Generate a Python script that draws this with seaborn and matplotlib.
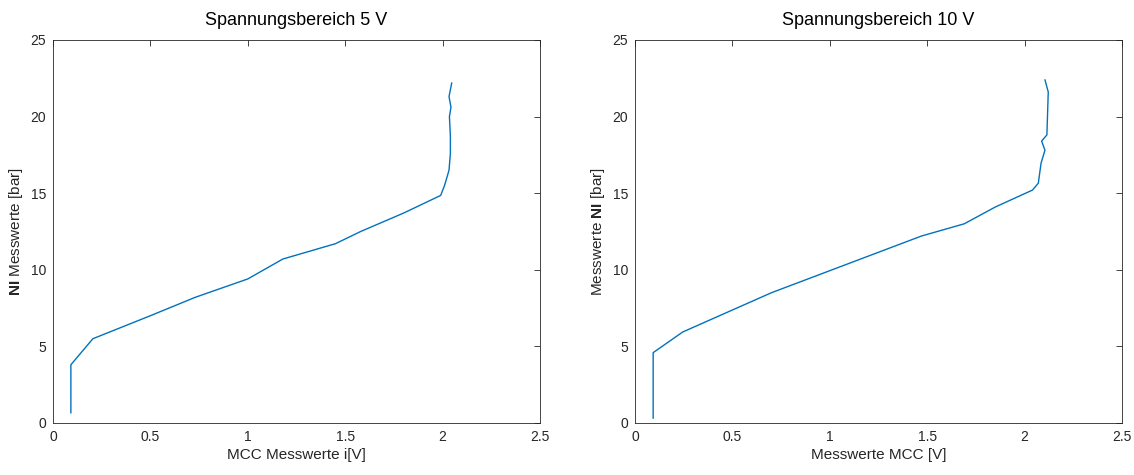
import matplotlib
matplotlib.use("Agg")
import matplotlib.pyplot as plt
import seaborn as sns
import pandas as pd

# Left panel: Spannungsbereich 5 V
mcc_5v = [0.092, 0.092, 0.205, 0.50, 0.73, 1.00, 1.18, 1.45, 1.58, 1.80, 1.99, 2.01,
          2.033, 2.04, 2.04, 2.035, 2.043, 2.033, 2.047]
ni_5v = [0.65, 3.8, 5.5, 7.0, 8.2, 9.4, 10.7, 11.7, 12.5, 13.7, 14.85, 15.5,
         16.5, 17.6, 18.7, 20.0, 20.6, 21.3, 22.2]

# Right panel: Spannungsbereich 10 V
mcc_10v = [0.093, 0.093, 0.245, 0.70, 1.47, 1.69, 1.85, 2.04, 2.07, 2.084, 2.104,
           2.087, 2.114, 2.121, 2.104]
ni_10v = [0.3, 4.59, 5.94, 8.5, 12.2, 13.0, 14.1, 15.2, 15.65, 16.95, 17.8,
          18.4, 18.8, 21.6, 22.4]

titles = ["Spannungsbereich 5 V", "Spannungsbereich 10 V"]
xlabels = ["MCC Messwerte i[V]", "Messwerte MCC [V]"]
ylabels = [r"$\mathbf{NI}$ Messwerte [bar]", r"Messwerte $\mathbf{NI}$ [bar]"]
xticks = [0, 0.5, 1, 1.5, 2, 2.5]
xticklabels = ["0", "0.5", "1", "1.5", "2", "2.5"]
yticks = [0, 5, 10, 15, 20, 25]

sns.set_theme(style="white")
plt.rcParams['font.family'] = ['Liberation Sans', 'DejaVu Sans']
plt.rcParams['mathtext.fontset'] = 'custom'
plt.rcParams['mathtext.rm'] = 'Liberation Sans'
plt.rcParams['mathtext.bf'] = 'Liberation Sans:bold'

fig = plt.figure(figsize=(11.34, 4.75), dpi=100)
ax1 = fig.add_axes([0.0467, 0.1095, 0.4295, 0.8065])
ax2 = fig.add_axes([0.560, 0.1095, 0.4295, 0.8065])

line_color = "#0072BD"
axc = "#262626"

df1 = pd.DataFrame({"x": mcc_5v, "y": ni_5v})
df2 = pd.DataFrame({"x": mcc_10v, "y": ni_10v})

for ax, df, title, xl, yl in [(ax1, df1, titles[0], xlabels[0], ylabels[0]),
                              (ax2, df2, titles[1], xlabels[1], ylabels[1])]:
    sns.lineplot(data=df, x="x", y="y", sort=False, estimator=None, ax=ax,
                 color=line_color, linewidth=1.0)
    ax.set_xlim(0, 2.5)
    ax.set_ylim(0, 25)
    ax.set_xticks(xticks)
    ax.set_xticklabels(xticklabels)
    ax.set_yticks(yticks)
    ax.set_title(title, fontsize=13, color="black", pad=11)
    ax.set_xlabel(xl, fontsize=11, color=axc, labelpad=3)
    ax.set_ylabel(yl, fontsize=11, color=axc, labelpad=4)
    ax.tick_params(direction="in", length=4, width=0.6, colors=axc, labelsize=10,
                   top=True, right=True, pad=5)
    for s in ax.spines.values():
        s.set_color(axc)
        s.set_linewidth(0.6)
        s.set_visible(True)

fig.savefig("out.png", dpi=100)
